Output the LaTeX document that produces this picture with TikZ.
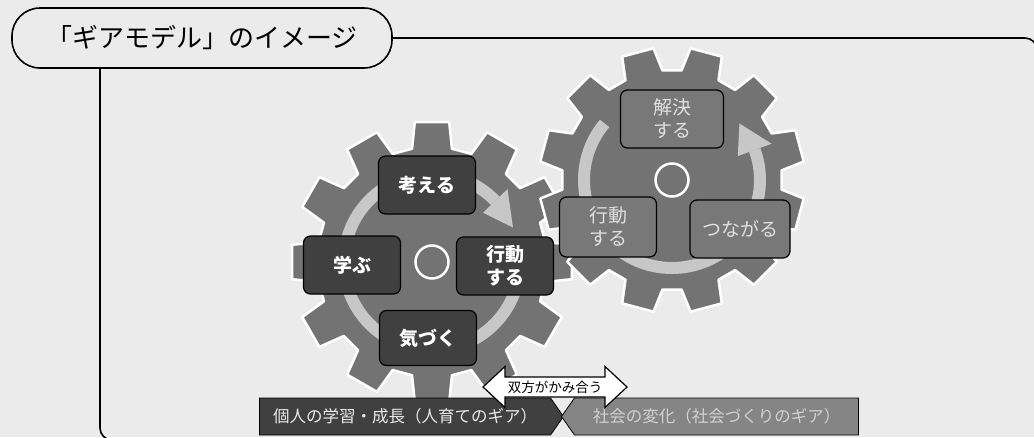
\documentclass[tikz,border=0pt]{standalone}
\usepackage{fontspec}
\setmainfont{Noto Sans CJK JP}
\usetikzlibrary{shapes.symbols}
\definecolor{paper}{gray}{0.92}

\begin{document}
\begin{tikzpicture}[x=1pt, y=1pt,
		gear/.style={fill=black!55, draw=white, line width=2.5pt, line join=round},
		ring/.style={draw=black!22, line width=12pt},
		head/.style={fill=black!22},
		hole/.style={draw=white, line width=2.5pt},
		inbox/.style={draw=black, line width=1.2pt, rounded corners=7pt, fill=black!75, text=white, minimum width=97pt, minimum height=58pt, align=center, inner sep=2pt, font=\fontsize{19}{23}\selectfont\bfseries},
		outbox/.style={inbox, fill=black!53, text=black!12, font=\fontsize{19}{23}\selectfont},
		frame/.style={line width=1.6pt, rounded corners=12pt},
		title/.style={draw, line width=1.6pt, fill=paper, rounded corners=28pt, minimum width=380pt, minimum height=60pt, font=\fontsize{26}{30}\selectfont},
		banner/.style={signal, draw=black, line width=0.8pt, signal pointer angle=110, minimum height=37pt, font=\fontsize{16.5}{20}\selectfont},
		meet/.style={draw=black, fill=white, line width=1.2pt, line join=miter},
		meettext/.style={font=\fontsize{13.5}{16}\selectfont, inner sep=0pt}]
		
		\useasboundingbox (0,0) rectangle (1034,-437);
		\fill[paper] (0,0) rectangle (1034,-437);
		
		\coordinate (vx) at (100,0);
		\node[title] (t) at (202,-38) {「ギアモデル」のイメージ};
		\draw[frame] (t.east) -- (1037,-38) -- (1037,-90);
		\draw[frame] (t.south -| vx) -- (100,-440) -- (300,-440);
		
		\begin{scope}[shift={(432,-262)}]
			\filldraw[gear] (-10:115) \foreach \k in {0,...,11} {
				-- ({30*\k-10}:115) -- ({30*\k-7}:141) -- ({30*\k+7}:141) -- ({30*\k+10}:115)} -- cycle;
		\end{scope}
		\begin{scope}[shift={(672,-180)}]
			\filldraw[gear] (5:110) \foreach \k in {0,...,11} {
				-- ({30*\k+5}:110) -- ({30*\k+8}:133) -- ({30*\k+22}:133) -- ({30*\k+25}:110)} -- cycle;
		\end{scope}
		
		\begin{scope}[shift={(432,-262)}]
			\draw[ring] (5:88) arc[start angle=5, end angle=-316, radius=88];
			\fill[head] (44:71) -- (23:88) -- (44:105) -- cycle;
			\draw[hole] (0,0) circle[radius=16.5];
		\end{scope}
		\begin{scope}[shift={(672,-180)}]
			\draw[ring] (140:88) arc[start angle=140, end angle=380, radius=88];
			\fill[head] (20:70) -- (40:88) -- (20:106) -- cycle;
			\draw[hole] (0,0) circle[radius=16.5];
		\end{scope}
		
		\node[inbox] (think) at (427,-185) {考える};
		\node[inbox] (learn) at (352,-265) {学ぶ};
		\node[inbox] (act1) at (505,-266) {行動\\する};
		\node[inbox, minimum height=55pt] (notice) at (428,-338) {気づく};
		
		\node[outbox, minimum width=103pt] (solve) at (672,-119) {解決\\する};
		\node[outbox, minimum height=60pt] (act2) at (608,-227) {行動\\する};
		\node[outbox, minimum width=100pt] (link) at (740,-229) {つながる};
		
		\node[banner, signal to=east, fill=black!75, text=black!8, minimum width=304pt] (self) at (405,-416.5) {個人の学習・成長（人育てのギア）};
		\node[banner, signal to=west, fill=black!48, text=black!18, minimum width=297pt] (society) at (716.5,-416.5) {社会の変化（社会づくりのギア）};
		
		\draw[meet] (555,-387) ++(-72,0) -- ++(22,20.5) -- ++(0,-10.5) -- ++(100,0) -- ++(0,10.5) -- ++(22,-20.5) -- ++(-22,-20.5) -- ++(0,10.5) -- ++(-100,0) -- ++(0,-10.5) -- cycle;
		\node[meettext] (mesh) at (555,-387) {双方がかみ合う};
		
	\end{tikzpicture}
\end{document}
